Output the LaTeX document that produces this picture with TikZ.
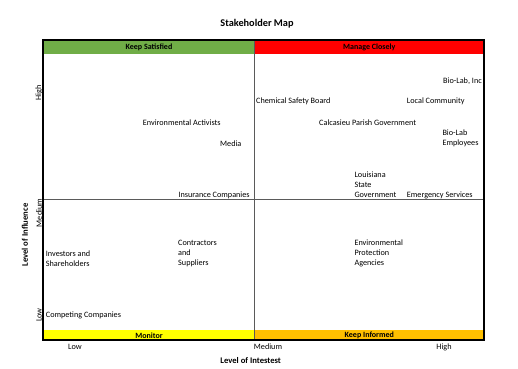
\documentclass[tikz,border=0pt]{standalone}
\usepackage{fontspec}
\setmainfont{Carlito}
\definecolor{ksgreen}{RGB}{112,173,71}
\definecolor{mcred}{RGB}{255,0,0}
\definecolor{monyellow}{RGB}{255,255,0}
\definecolor{kiorange}{RGB}{255,192,0}
\definecolor{divgray}{RGB}{90,90,90}
\begin{document}
\begin{tikzpicture}[x=1bp,y=-1bp,
  lbl/.style={inner sep=0pt,anchor=west,font=\fontsize{8.2bp}{10.3bp}\selectfont,align=left},
  band/.style={inner sep=0pt,font=\fontsize{8bp}{9bp}\selectfont\bfseries},
  axl/.style={inner sep=0pt,font=\fontsize{8.2bp}{9bp}\selectfont},
  axt/.style={inner sep=0pt,font=\fontsize{8.6bp}{10bp}\selectfont\bfseries}]
\useasboundingbox (0,0) rectangle (518,368);
% bands
\fill[ksgreen] (43,40) rectangle (254.3,54);
\fill[mcred] (254.3,40) rectangle (484,54);
\fill[monyellow] (43,329.5) rectangle (254.3,340);
\fill[kiorange] (254.3,329.5) rectangle (484,340);
% dividers
\coordinate (vtop) at (254.3,40);
\coordinate (vbot) at (254.3,340);
\coordinate (hl) at (43,199.3);
\coordinate (hr) at (484,199.3);
\draw[divgray,line width=0.8bp] (vtop) -- (vbot);
\draw[divgray,line width=0.8bp] (hl) -- (hr);
\draw[black,line width=1.4bp] (43,40) rectangle (484,340);
% title
\node[inner sep=0pt,font=\fontsize{10.3bp}{12bp}\selectfont\bfseries] (title) at (257,24) {Stakeholder Map};
% band labels
\node[band] (ks) at (149,47.3) {Keep Satisfied};
\node[band] (mc) at (369.3,47.3) {Manage Closely};
\node[band] (mo) at (149,335.5) {Monitor};
\node[band] (ki) at (369.3,335.5) {Keep Informed};
% axes
\node[axl,rotate=90] (yh) at (39,93) {High};
\node[axl,rotate=90] (ym) at (39,213) {Medium};
\node[axl,rotate=90] (yl) at (39,315) {Low};
\node[axt,rotate=90] (yt) at (25,235) {Level of Influence};
\node[axl] (xl) at (75,347) {Low};
\node[axl] (xm) at (268,347) {Medium};
\node[axl] (xh) at (444,347) {High};
\node[axt] (xt) at (250.7,360.7) {Level of Intestest};
% stakeholders
\node[lbl,anchor=east] (biolab) at (482,81.3) {Bio-Lab, Inc};
\node[lbl] (csb) at (256,101.7) {Chemical Safety Board};
\node[lbl] (lc) at (406.7,101.7) {Local Community};
\node[lbl] (ea) at (142.7,122.3) {Environmental Activists};
\node[lbl] (cpg) at (319,122.3) {Calcasieu Parish Government};
\node[lbl] (ble) at (442.3,138.3) {Bio-Lab\\Employees};
\node[lbl] (media) at (220,143.3) {Media};
\node[lbl] (lsg) at (354.3,184.8) {Louisiana\\State\\Government};
\node[lbl] (ic) at (178.3,195.3) {Insurance Companies};
\node[lbl] (es) at (406.7,195.3) {Emergency Services};
\node[lbl] (cs) at (178,253.5) {Contractors\\and\\Suppliers};
\node[lbl] (is) at (45.7,258.5) {Investors and\\Shareholders};
\node[lbl] (epa) at (354.3,253.5) {Environmental\\Protection\\Agencies};
\node[lbl] (cc) at (45.7,315) {Competing Companies};
\end{tikzpicture}
\end{document}
